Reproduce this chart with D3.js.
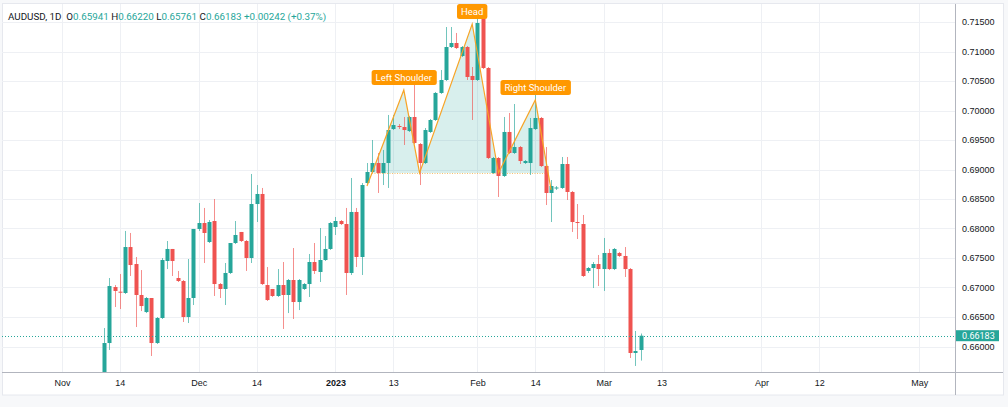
<!DOCTYPE html>
<html>
<head>
<meta charset="utf-8">
<script src="https://cdn.jsdelivr.net/npm/d3@7"></script>
<style>
  body { margin: 0; background: #fff; }
  svg { display: block; font-family: Roboto, "Liberation Sans", sans-serif; }
  .axis text { fill: #131722; font-size: 9px; }
</style>
</head>
<body>
<div id="chart"></div>
<script>
// daily bars, index 0 = Nov 10 2022 (Sun-Fri sessions)
var opens = [
  0.65415,0.66059,0.67008,0.66929,0.66907,0.67686,0.67398,0.66873,0.66584,0.66822,
  0.66059,0.66483,0.67449,0.67653,0.67161,0.67110,0.66500,0.66822,0.67992,0.68093,
  0.67771,0.68127,0.67059,0.66975,0.67246,0.67754,0.67941,0.67788,0.67500,0.68415,
  0.68585,0.67042,0.66975,0.66856,0.67042,0.66873,0.67127,0.66754,0.66975,0.67059,
  0.67432,0.67263,0.67466,0.67653,0.68025,0.68127,0.68076,0.67246,0.68280,0.67517,
  0.68771,0.68958,0.69110,0.68941,0.69110,0.69686,0.69737,0.69720,0.69652,0.69890,
  0.69432,0.69110,0.69636,0.69839,0.70297,0.70517,0.71076,0.71144,0.70924,0.71076,
  0.70585,0.70517,0.71568,0.70720,0.68941,0.69195,0.68890,0.69636,0.69280,0.69381,
  0.69110,0.69110,0.69686,0.69873,0.69059,0.68602,0.68678,0.68687,0.69093,0.68619,
  0.68110,0.68076,0.67280,0.67330,0.67398,0.67313,0.67585,0.67313,0.67585,0.67534,
  0.67313,0.65890,0.65941
];
var highs = [
  0.66313,0.67161,0.67042,0.67229,0.67958,0.67924,0.67517,0.67296,0.66839,0.66822,
  0.66500,0.67500,0.67788,0.67653,0.67280,0.67127,0.67483,0.67992,0.68432,0.68348,
  0.68144,0.68500,0.67076,0.67415,0.67754,0.68127,0.67941,0.67805,0.68924,0.68737,
  0.68687,0.67347,0.66975,0.67313,0.67432,0.67144,0.67669,0.67144,0.67076,0.67568,
  0.67754,0.68008,0.67873,0.68110,0.68195,0.68144,0.68348,0.68856,0.68348,0.68771,
  0.69110,0.69500,0.69280,0.69331,0.69924,0.69924,0.69771,0.69890,0.69907,0.70483,
  0.69449,0.69703,0.69856,0.70314,0.70686,0.71415,0.71415,0.71314,0.71093,0.71093,
  0.70737,0.71568,0.71585,0.70737,0.69212,0.69212,0.69890,0.69958,0.70110,0.69398,
  0.69161,0.69873,0.70263,0.69890,0.69381,0.68822,0.68720,0.69212,0.69212,0.68636,
  0.68415,0.68229,0.67347,0.67432,0.67551,0.67839,0.67653,0.67669,0.67602,0.67686,
  0.67330,0.66263,0.66220
];
var lows = [
  0.65381,0.65941,0.66669,0.66635,0.66890,0.67195,0.66330,0.66601,0.66567,0.65839,
  0.66042,0.66466,0.67313,0.67195,0.67093,0.66415,0.66398,0.66703,0.67958,0.67415,
  0.67754,0.66856,0.66822,0.66703,0.67229,0.67737,0.67771,0.67280,0.67415,0.68110,
  0.67042,0.66771,0.66839,0.66839,0.66297,0.66567,0.66466,0.66618,0.66958,0.66839,
  0.67229,0.67093,0.67449,0.67636,0.67890,0.68059,0.66873,0.67212,0.67347,0.67212,
  0.68754,0.68941,0.68602,0.68737,0.68687,0.69669,0.69686,0.69415,0.69636,0.69432,
  0.68737,0.69093,0.69619,0.69822,0.70280,0.70500,0.71059,0.71042,0.70907,0.70517,
  0.69839,0.70500,0.70703,0.69178,0.68924,0.68534,0.68873,0.69263,0.69263,0.69093,
  0.69093,0.68907,0.69669,0.69042,0.68398,0.68110,0.68653,0.68670,0.68483,0.67941,
  0.67822,0.67178,0.67246,0.66991,0.67025,0.66941,0.67296,0.67296,0.67517,0.67178,
  0.65805,0.65670,0.65761
];
var closes = [
  0.66059,0.67025,0.66941,0.66912,0.67686,0.67381,0.66873,0.66686,0.66822,0.66059,
  0.66483,0.67466,0.67653,0.67449,0.67110,0.66500,0.66822,0.67992,0.68093,0.67924,
  0.68110,0.67059,0.66975,0.67246,0.67754,0.67890,0.67788,0.67500,0.68415,0.68585,
  0.67059,0.66788,0.66856,0.67042,0.66873,0.67127,0.66754,0.67127,0.67059,0.67432,
  0.67280,0.67466,0.67653,0.68093,0.68127,0.68076,0.67246,0.68280,0.67517,0.68737,
  0.68958,0.69110,0.68941,0.69110,0.69669,0.69754,0.69720,0.69669,0.69890,0.69449,
  0.69110,0.69669,0.69839,0.70297,0.70517,0.71076,0.71144,0.71059,0.71076,0.70568,
  0.70517,0.71483,0.70720,0.69195,0.69195,0.68890,0.69636,0.69280,0.69381,0.69144,
  0.69144,0.69703,0.69873,0.69059,0.68602,0.68720,0.68695,0.69093,0.68619,0.68110,
  0.68093,0.67195,0.67330,0.67398,0.67313,0.67585,0.67313,0.67653,0.67534,0.67313,
  0.65890,0.65924,0.66183
];

// axis ticks
var yTicks = [0.715, 0.71, 0.705, 0.70, 0.695, 0.69, 0.685, 0.68, 0.675, 0.67, 0.665, 0.66];
var xTickIdx = [-8, 3, 18, 29, 44, 55, 71, 82, 95, 106, 125, 136, 155];
var xTickLabels = ["Nov", "14", "Dec", "14", "2023", "13", "Feb", "14", "Mar", "13", "Apr", "12", "May"];

// head & shoulders drawing (bar index, price)
var hsIdx = [50, 57, 60, 70, 75, 82, 85];
var hsPrice = [0.68720, 0.70347, 0.68941, 0.71466, 0.68941, 0.70178, 0.68653];
var hsLabels = [{at: 1, text: "Left Shoulder"}, {at: 3, text: "Head"}, {at: 5, text: "Right Shoulder"}];

var lastPrice = 0.66183;
var header = [
  ["AUDUSD, 1D ", "#131722"], [" O", "#131722"], ["0.65941", "#26a69a"],
  [" H", "#131722"], ["0.66220", "#26a69a"], [" L", "#131722"], ["0.65761", "#26a69a"],
  [" C", "#131722"], ["0.66183", "#26a69a"], [" +0.00242 (+0.37%)", "#26a69a"]
];

var up = "#26a69a", down = "#ef5350";
var W = 1008, H = 407;
var plot = {left: 2, top: 4, right: 955, bottom: 372};

var x = d3.scaleLinear().domain([0, 102]).range([104, 640.5]);
var y = d3.scaleLinear().domain([0.66, 0.715]).range([346.5, 22]);

var svg = d3.select("#chart").append("svg")
    .attr("width", W).attr("height", H);

svg.append("rect").attr("width", W).attr("height", H).attr("fill", "#f7f8fa");
svg.append("rect")
    .attr("x", 2.5).attr("y", 3.5).attr("width", 1001).attr("height", 391.5)
    .attr("fill", "#fff").attr("stroke", "#e6e8ee");

svg.append("clipPath").attr("id", "plotclip")
  .append("rect")
    .attr("x", plot.left).attr("y", plot.top)
    .attr("width", plot.right - plot.left).attr("height", plot.bottom - plot.top);

// grid
var grid = svg.append("g").attr("clip-path", "url(#plotclip)");
grid.selectAll(".hg").data(yTicks).enter().append("line")
    .attr("x1", plot.left).attr("x2", plot.right)
    .attr("y1", d => Math.round(y(d)) + 0.5).attr("y2", d => Math.round(y(d)) + 0.5)
    .attr("stroke", "#eef0f4");
grid.selectAll(".vg").data(xTickIdx).enter().append("line")
    .attr("x1", d => Math.round(x(d)) + 0.5).attr("x2", d => Math.round(x(d)) + 0.5)
    .attr("y1", plot.top).attr("y2", plot.bottom)
    .attr("stroke", "#eef0f4");

var g = svg.append("g").attr("clip-path", "url(#plotclip)");

// pattern fill, kept above the neckline
var neck = hsPrice[2];
svg.append("clipPath").attr("id", "neckclip")
  .append("rect")
    .attr("x", plot.left).attr("y", plot.top)
    .attr("width", plot.right - plot.left).attr("height", y(neck) - plot.top);

var hsPts = hsIdx.map((d, i) => [x(d), y(hsPrice[i])]);
var area = d3.area().x(d => d[0]).y0(y(neck)).y1(d => d[1]);
g.append("path")
    .attr("d", area(hsPts))
    .attr("clip-path", "url(#neckclip)")
    .attr("fill", "rgba(38,166,154,0.18)");

// neckline between where the outer legs cross it
function cross(a, b) {
    var t = (y(neck) - a[1]) / (b[1] - a[1]);
    return a[0] + t * (b[0] - a[0]);
}
g.append("line")
    .attr("x1", cross(hsPts[0], hsPts[1])).attr("x2", cross(hsPts[5], hsPts[6]))
    .attr("y1", Math.round(y(neck)) + 0.5).attr("y2", Math.round(y(neck)) + 0.5)
    .attr("stroke", "#f5b14c").attr("stroke-dasharray", "1,1.5").attr("opacity", 0.8);

// candles
var bars = d3.range(opens.length).map(i => ({
    i: i, o: opens[i], h: highs[i], l: lows[i], c: closes[i]
}));
var bw = 4;
var candle = g.selectAll(".candle").data(bars).enter().append("g");
candle.append("line")
    .attr("x1", d => Math.round(x(d.i)) + 0.5).attr("x2", d => Math.round(x(d.i)) + 0.5)
    .attr("y1", d => y(d.h)).attr("y2", d => y(d.l))
    .attr("stroke", d => d.c >= d.o ? up : down)
    .attr("stroke-opacity", 0.65);
candle.append("rect")
    .attr("x", d => Math.round(x(d.i)) + 0.5 - bw / 2)
    .attr("width", bw)
    .attr("y", d => y(Math.max(d.o, d.c)))
    .attr("height", d => Math.max(1, Math.abs(y(d.o) - y(d.c))))
    .attr("fill", d => d.c >= d.o ? up : down);

// pattern line
g.append("path")
    .attr("d", d3.line()(hsPts))
    .attr("fill", "none")
    .attr("stroke", "#f7a427")
    .attr("stroke-width", 1.2);

// labels
var lab = svg.append("g").selectAll(".hslab").data(hsLabels).enter().append("g");
lab.append("text")
    .attr("x", d => hsPts[d.at][0])
    .attr("y", d => hsPts[d.at][1] - 9)
    .attr("text-anchor", "middle")
    .attr("font-size", "9.5px")
    .attr("fill", "#fff")
    .text(d => d.text);
lab.each(function(d) {
    var t = d3.select(this).select("text");
    var bb = t.node().getBBox();
    d3.select(this).insert("rect", "text")
        .attr("x", bb.x - 4).attr("y", hsPts[d.at][1] - 20)
        .attr("width", bb.width + 8).attr("height", 15)
        .attr("rx", 2.5)
        .attr("fill", "#ff9800");
});

// last price line
g.append("line")
    .attr("x1", plot.left).attr("x2", plot.right)
    .attr("y1", Math.round(y(lastPrice)) + 0.5).attr("y2", Math.round(y(lastPrice)) + 0.5)
    .attr("stroke", up).attr("stroke-dasharray", "1,2");

// axes
var yAxis = d3.axisRight(y).tickValues(yTicks).tickFormat(d3.format(".5f")).tickSize(0).tickPadding(7);
svg.append("g").attr("class", "axis")
    .attr("transform", "translate(" + plot.right + ",0)")
    .call(yAxis)
    .call(s => s.select(".domain").remove());

var xAxis = d3.axisBottom(x).tickValues(xTickIdx).tickFormat((d, i) => xTickLabels[i]).tickSize(0).tickPadding(8);
svg.append("g").attr("class", "axis")
    .attr("transform", "translate(0," + plot.bottom + ")")
    .call(xAxis)
    .call(s => s.select(".domain").remove())
    .selectAll("text")
    .attr("font-weight", (d, i) => xTickLabels[i] == "2023" ? "bold" : null);

// axis borders
svg.append("line")
    .attr("x1", plot.left).attr("x2", 1003)
    .attr("y1", plot.bottom + 0.5).attr("y2", plot.bottom + 0.5)
    .attr("stroke", "#b2b5be");
svg.append("line")
    .attr("x1", plot.right + 0.5).attr("x2", plot.right + 0.5)
    .attr("y1", plot.top).attr("y2", 395)
    .attr("stroke", "#b2b5be");

// last price tag
var tagY = y(lastPrice);
svg.append("rect")
    .attr("x", plot.right + 1).attr("y", tagY - 5.5)
    .attr("width", 43).attr("height", 11)
    .attr("fill", up);
svg.append("text")
    .attr("x", plot.right + 7).attr("y", tagY)
    .attr("dy", "0.35em")
    .attr("font-size", "9px")
    .attr("fill", "#fff")
    .text(d3.format(".5f")(lastPrice));

// legend header
var ht = svg.append("text").attr("x", 8).attr("y", 19.5).attr("font-size", "9.8px");
ht.selectAll("tspan").data(header).enter().append("tspan")
    .attr("fill", d => d[1])
    .attr("xml:space", "preserve")
    .text(d => d[0]);
</script>
</body>
</html>
